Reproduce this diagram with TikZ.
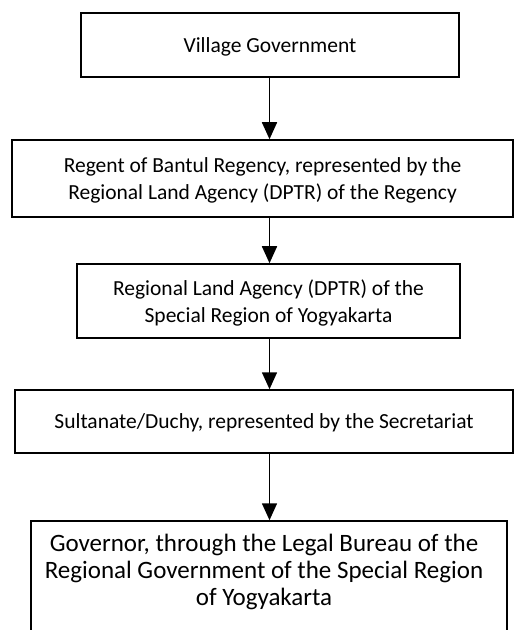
\documentclass[tikz,border=0pt]{standalone}
\usepackage{fontspec}
\setmainfont{Carlito}
\usetikzlibrary{positioning,arrows.meta}
\tikzset{
  stagebox/.style={draw=black, line width=0.75pt, align=center, inner sep=0pt,
                   text depth=-1pt, font=\fontsize{10.75}{13.2}\selectfont},
  stagetext/.style={align=center, inner sep=0pt, font=\fontsize{12.5}{13.5}\selectfont},
  stageflow/.style={-{Triangle[length=8.5pt,width=7.5pt]}, line width=0.8pt, draw=black},
}
\newcommand{\FlowX}{269.5}

\begin{document}
\begin{tikzpicture}[x=0.5pt,y=-0.5pt]
  \useasboundingbox (0,0) rectangle (514,630);
  \clip (0,0) rectangle (514,630);

  \node[stagebox, minimum width=189pt, minimum height=32pt] (village) at (270,45)
    {Village Government};
  \node[stagebox, minimum width=250.5pt, minimum height=38.5pt] (regent) at (262.5,178.5)
    {Regent of Bantul Regency, represented by the\\Regional Land Agency (DPTR) of the Regency};
  \node[stagebox, minimum width=191.5pt, minimum height=37pt] (dptr) at (268.5,301)
    {Regional Land Agency (DPTR) of the\\Special Region of Yogyakarta};
  \node[stagebox, minimum width=249pt, minimum height=31.5pt] (sultanate) at (264,421.5)
    {Sultanate/Duchy, represented by the Secretariat};
  \node[stagebox, minimum width=238pt, minimum height=69.5pt] (governor) at (269,590.5) {};
  \node[stagetext] (governortext) at (264,572)
    {Governor, through the Legal Bureau of the\\Regional Government of the Special Region\\of Yogyakarta};

  \coordinate (flow) at (\FlowX,0);
  \foreach \from/\to in {village/regent, regent/dptr, dptr/sultanate, sultanate/governor}
    \draw[stageflow] (\from.south -| flow) -- (\to.north -| flow);

\end{tikzpicture}
\end{document}
